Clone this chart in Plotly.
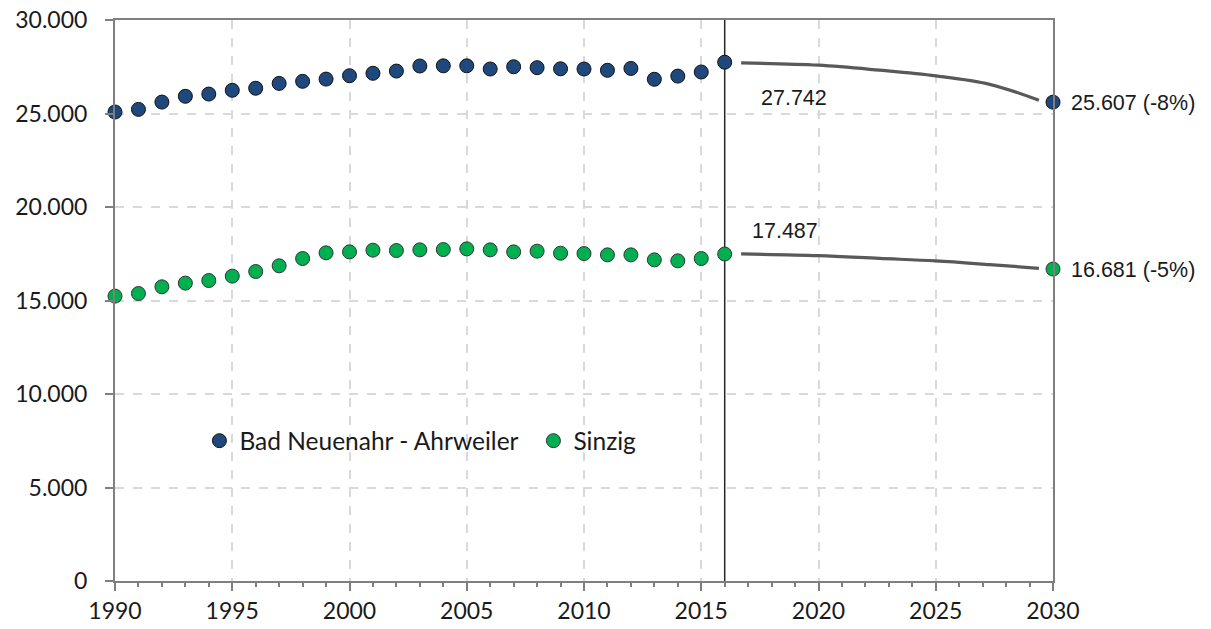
import plotly.graph_objects as go

years = list(range(1990, 2017))
bad_neuenahr = [25080, 25220, 25610, 25920, 26040, 26240, 26350, 26610, 26720, 26840,
                27020, 27150, 27270, 27540, 27550, 27550, 27380, 27500, 27450, 27390,
                27380, 27310, 27410, 26830, 27000, 27220, 27742]
sinzig = [15235, 15374, 15732, 15929, 16068, 16303, 16550, 16854, 17244, 17548,
          17601, 17692, 17671, 17708, 17724, 17762, 17708, 17601, 17639, 17530,
          17511, 17441, 17441, 17174, 17121, 17244, 17487]

target_year = 2030
bad_target = 25607
sinzig_target = 16681

proj_years = [2016.7, 2020.0, 2022.6, 2025.0, 2027.3, 2029.4]
bad_proj = [27706, 27583, 27316, 27011, 26560, 25711]
sinzig_proj = [17491, 17400, 17250, 17117, 16920, 16723]

base_year = 2016
x_ticks = [1990, 1995, 2000, 2005, 2010, 2015, 2020, 2025, 2030]
y_ticks = [0, 5000, 10000, 15000, 20000, 25000, 30000]

BLUE = "#1F497D"
GREEN = "#00B050"
LINE_GRAY = "#595959"


def de(n):
    return f"{n:,}".replace(",", ".")


fig = go.Figure()

# projection curves
for pv in (bad_proj, sinzig_proj):
    fig.add_trace(go.Scatter(x=proj_years, y=pv, mode="lines",
                             line=dict(color=LINE_GRAY, width=3.2, shape="spline", smoothing=1.0),
                             showlegend=False, hoverinfo="skip", cliponaxis=False))

fig.add_trace(go.Scatter(x=years + [target_year], y=bad_neuenahr + [bad_target], mode="markers",
                         name="Bad Neuenahr - Ahrweiler",
                         marker=dict(size=14, color=BLUE, line=dict(color="#111111", width=1)),
                         cliponaxis=False))
fig.add_trace(go.Scatter(x=years + [target_year], y=sinzig + [sinzig_target], mode="markers",
                         name="Sinzig",
                         marker=dict(size=14, color=GREEN, line=dict(color="#333333", width=1)),
                         cliponaxis=False))

fig.add_vline(x=base_year, line=dict(color="#262626", width=1.5), layer="below")

label_font = dict(family="Liberation Sans, Arial, sans-serif", size=21.5, color="#1a1a1a")
fig.add_annotation(x=base_year, y=bad_neuenahr[-1], text=de(bad_neuenahr[-1]), showarrow=False,
                   xanchor="center", yanchor="middle", xshift=69, yshift=-36, font=label_font)
fig.add_annotation(x=base_year, y=sinzig[-1], text=de(sinzig[-1]), showarrow=False,
                   xanchor="center", yanchor="middle", xshift=60, yshift=23, font=label_font)
for tv, bv in ((bad_target, bad_neuenahr[-1]), (sinzig_target, sinzig[-1])):
    pct = round((tv / bv - 1) * 100)
    fig.add_annotation(x=target_year, y=tv, text=f"{de(tv)} ({pct}%)", showarrow=False,
                       xanchor="left", yanchor="middle", xshift=16, yshift=-1, font=label_font)

axis_font = dict(family="Lato, sans-serif", size=23, color="#1a1a1a")
fig.update_xaxes(range=[1990, 2030], tickvals=x_ticks, ticks="outside", ticklen=8,
                 tickcolor="#7f7f7f", tickwidth=1.5, automargin=False, ticklabeloverflow="allow",
                 minor=dict(dtick=1, ticks="outside", ticklen=4, tickcolor="#7f7f7f", showgrid=False),
                 showgrid=True, gridcolor="#d9d9d9", griddash="dash", gridwidth=1.5,
                 showline=True, linecolor="#7f7f7f", linewidth=2, mirror=True,
                 zeroline=False, tickfont=axis_font)
fig.update_yaxes(range=[0, 30000], tickvals=y_ticks, tickformat=",d", ticks="outside", ticklen=8,
                 tickcolor="#7f7f7f", tickwidth=1.5, automargin=False, ticklabeloverflow="allow",
                 showgrid=True, gridcolor="#d9d9d9", griddash="dash", gridwidth=1.5,
                 showline=True, linecolor="#7f7f7f", linewidth=2, mirror=True,
                 zeroline=False, tickfont=axis_font, ticklabelstandoff=13)

fig.update_layout(
    width=1211, height=629,
    margin=dict(l=115, r=158, t=20, b=48),
    plot_bgcolor="white", paper_bgcolor="white",
    separators=",.",
    legend=dict(orientation="h", x=0.09, y=0.25, xanchor="left", yanchor="middle",
                font=dict(family="Lato, sans-serif", size=24.5, color="#1a1a1a"),
                bgcolor="rgba(0,0,0,0)", itemwidth=30, entrywidth=289, entrywidthmode="pixels"),
    showlegend=True,
)

# remove the default page margin so the figure fills the window exactly
fig.write_html("out.html", config={"displayModeBar": False},
               post_script="document.body.style.margin='0px';")
